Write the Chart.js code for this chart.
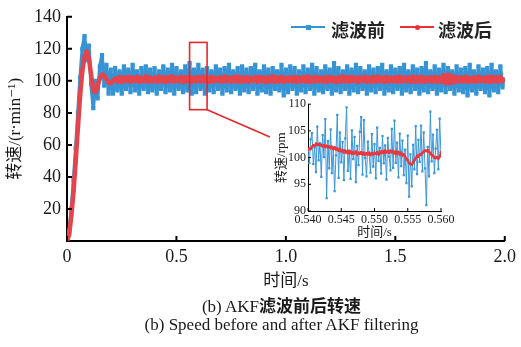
<!DOCTYPE html>
<html>
<head>
<meta charset="utf-8">
<script src="https://cdn.jsdelivr.net/npm/chart.js@4.4.1/dist/chart.umd.min.js"></script>
<style>
  html, body { margin: 0; padding: 0; background: #fff; overflow: hidden; }
  #wrap { position: relative; width: 521px; height: 347px; }
  #main { position: absolute; left: 0; top: 0; }
  #inset { position: absolute; left: 260px; top: 95px; }
  .lg-line { position: absolute; top: 26px; width: 34px; height: 2px; }
  .lg-mark { position: absolute; top: 24.5px; width: 5px; height: 5px; }
  .lg-text { position: absolute; top: 16px; line-height: 22px; font: bold 18px "Noto Sans CJK SC"; color: #222; }
  .cap { position: absolute; left: 21px; width: 521px; text-align: center; line-height: 22px;
         font: 17px "Liberation Serif", "Times New Roman", "DejaVu Serif", serif; color: #1a1a1a; }
  .cap b { font-family: "Noto Sans CJK SC"; font-weight: bold; }
</style>
</head>
<body>
<div id="wrap">
  <canvas id="main" width="521" height="347"></canvas>
  <canvas id="inset" width="200" height="150"></canvas>

  <div class="lg-line" style="left:291px;background:#3794d4"></div>
  <div class="lg-mark" style="left:305.5px;background:#3794d4"></div>
  <div class="lg-text" style="left:331px">滤波前</div>
  <div class="lg-line" style="left:400px;background:#ee3036"></div>
  <div class="lg-mark" style="left:414.5px;background:#ee3036;border-radius:50%"></div>
  <div class="lg-text" style="left:438px">滤波后</div>

  <div class="cap" style="top:292px">(b) AKF<b>滤波前后转速</b></div>
  <div class="cap" style="top:315px">(b) Speed before and after AKF filtering</div>
</div>
<script>
// 主图：0~2 s，每 0.01 s 一个采样
const T_MAIN = Array.from({ length: 201 }, (_, i) => +(i * 0.01).toFixed(2));
const X_TICKS = [0, 0.5, 1.0, 1.5, 2.0];
const Y_TICKS = [20, 40, 60, 80, 100, 120, 140];

const BEFORE_MAIN = [
  0, 6, 20, 38, 58, 80, 102, 120, 128, 113,
  122, 98, 83, 100, 89, 109, 116, 97, 110, 92,
  107, 92, 108, 94, 106, 92, 109, 95, 107, 93,
  110, 94, 106, 92, 108, 95, 109, 93, 107, 94,
  108, 92, 106, 95, 109, 93, 107, 94, 110, 92,
  108, 95, 106, 93, 109, 94, 111, 92, 107, 93,
  110, 95, 107, 92, 108, 94, 106, 93, 109, 95,
  107, 92, 108, 94, 110, 93, 106, 95, 108, 92,
  109, 94, 107, 93, 108, 95, 110, 92, 106, 94,
  109, 93, 107, 92, 108, 95, 106, 94, 110, 91,
  107, 93, 109, 95, 108, 92, 106, 94, 109, 93,
  107, 95, 110, 92, 108, 94, 106, 93, 109, 95,
  107, 92, 111, 94, 108, 93, 106, 95, 109, 92,
  107, 94, 110, 93, 108, 95, 106, 92, 109, 94,
  107, 93, 108, 95, 110, 92, 106, 94, 109, 93,
  107, 95, 108, 92, 110, 94, 106, 93, 109, 95,
  107, 92, 108, 94, 111, 93, 106, 95, 109, 92,
  107, 94, 110, 93, 108, 95, 106, 92, 109, 94,
  107, 93, 108, 91, 110, 94, 106, 92, 109, 95,
  107, 93, 108, 91, 110, 94, 106, 93, 109, 96,
  101
];

const AFTER_MAIN = [
  0, 4, 16, 31, 50, 71, 91, 106, 115, 118.5,
  114, 104, 94, 93, 97, 101.5, 104, 103.5, 101, 99,
  98.5, 100, 101.5, 99.6, 102.4, 99.2, 102.1, 99.8, 102.6, 99.4,
  102.2, 99.7, 102.5, 99.3, 102.0, 99.9, 102.7, 99.5, 102.3, 99.6,
  102.1, 99.4, 102.6, 99.8, 102.2, 99.3, 102.4, 99.7, 102.8, 99.5,
  102.0, 99.6, 102.5, 99.2, 102.3, 99.9, 102.6, 99.4, 102.1, 99.7,
  102.4, 99.5, 102.7, 99.8, 102.2, 99.3, 102.5, 99.6, 102.0, 99.9,
  102.3, 99.4, 102.6, 99.7, 102.1, 99.5, 102.4, 99.8, 102.7, 99.3,
  102.2, 99.6, 102.5, 99.4, 102.0, 99.9, 102.3, 99.5, 102.6, 99.7,
  102.1, 99.2, 102.4, 99.6, 102.8, 99.4, 102.2, 99.7, 102.5, 99.3,
  102.0, 99.8, 102.3, 99.5, 102.6, 99.4, 102.1, 99.7, 102.4, 99.6,
  102.7, 99.3, 102.2, 99.5, 102.5, 99.8, 102.0, 99.4, 102.3, 99.6,
  102.6, 99.7, 102.1, 99.2, 102.4, 99.5, 102.8, 99.6, 102.2, 99.4,
  102.5, 99.9, 102.0, 99.3, 102.3, 99.7, 102.6, 99.5, 102.1, 99.4,
  102.4, 99.6, 102.7, 99.8, 102.2, 99.3, 102.5, 99.5, 102.0, 99.7,
  102.3, 99.4, 102.6, 99.6, 102.1, 99.8, 102.4, 99.3, 102.7, 99.5,
  102.2, 99.6, 102.5, 99.4, 102.0, 99.7, 102.3, 99.5, 102.6, 99.4,
  102.1, 99.6, 103.5, 98.6, 103.8, 98.5, 103.2, 99.0, 102.4, 99.5,
  102.2, 99.7, 102.5, 99.3, 102.0, 99.6, 102.3, 99.4, 102.6, 99.8,
  102.1, 99.5, 102.4, 99.3, 102.7, 99.6, 102.2, 99.4, 102.5, 99.7,
  100.8
];

// 局部放大：0.540~0.560 s，每 0.0002 s 一个采样
const T_INSET = Array.from({ length: 101 }, (_, i) => +(0.54 + i * 0.0002).toFixed(4));
const INSET_X_TICKS = [0.540, 0.545, 0.550, 0.555, 0.560];
const INSET_Y_TICKS = [90, 95, 100, 105, 110];

const BEFORE_INSET = [
  101.2, 99.0, 103.4, 104.6, 98.8, 101.9, 97.3, 105.8, 99.5, 102.7,
  96.4, 104.2, 100.1, 107.2, 92.4, 103.1, 98.0, 105.3, 97.1, 101.6,
  93.7, 100.4, 108.0, 96.2, 104.7, 99.1, 102.9, 95.8, 103.6, 109.4,
  97.5, 101.3, 96.0, 105.1, 99.7, 103.9, 95.4, 102.2, 98.6, 104.8,
  107.6, 96.8, 107.0, 99.9, 96.5, 103.0, 100.6, 97.2, 104.4, 98.3,
  102.5, 96.1, 105.6, 99.4, 101.8, 97.0, 104.0, 98.9, 102.3, 95.9,
  103.7, 100.2, 97.6, 105.4, 98.1, 106.9, 99.0, 102.8, 96.3, 104.5,
  98.4, 103.2, 96.7, 101.5, 95.2, 104.1, 92.7, 100.6, 94.6, 102.4,
  97.8, 105.9, 96.9, 103.3, 99.2, 106.0, 97.4, 104.7, 98.0, 91.1,
  102.0, 96.5, 108.6, 99.3, 104.3, 97.1, 101.7, 105.2, 97.8, 107.3,
  100.4
];

const AFTER_INSET = [
  101.4, 101.7, 101.6, 102.0, 102.3, 102.2, 102.6, 102.4, 102.5, 102.3,
  102.4, 102.1, 102.3, 102.0, 102.2, 101.9, 102.1, 101.8, 102.0, 101.6,
  101.9, 101.5, 101.7, 101.3, 101.6, 101.2, 101.4, 101.0, 101.3, 100.9,
  101.2, 100.8, 101.1, 100.7, 101.0, 100.8, 101.1, 100.6, 100.9, 100.7,
  101.0, 100.6, 100.9, 100.5, 100.8, 100.6, 100.9, 100.5, 100.8, 100.6,
  100.9, 100.7, 101.0, 100.6, 101.1, 100.8, 101.2, 100.9, 101.3, 101.0,
  101.2, 100.9, 101.3, 101.0, 101.2, 100.8, 101.1, 100.7, 101.0, 100.6,
  100.9, 100.4, 100.6, 100.1, 99.8, 99.5, 99.0, 98.8, 98.7, 99.1,
  99.5, 99.9, 100.3, 100.2, 100.6, 100.5, 100.9, 101.1, 101.3, 101.2,
  101.4, 101.1, 100.8, 100.5, 100.3, 100.0, 99.9, 100.1, 99.8, 100.2,
  101.0
];

// 放大框及引线（数据坐标）
const BOX_X = [0.56, 0.64], BOX_Y = [82, 124];
const LEAD_END = [0.927, 65];

const BLUE = '#3794d4', RED = '#e6444d';
const SERIF = '"Liberation Serif", "Times New Roman", "DejaVu Serif", serif, "Noto Sans CJK SC"';
const INK = '#1a1a1a';

const xy = (ts, vs) => ts.map((t, i) => ({ x: t, y: vs[i] }));

// 向内的刻度线
const innerTicks = {
  id: 'innerTicks',
  afterDraw(chart, args, opts) {
    const { ctx, chartArea: a, scales: { x, y } } = chart;
    ctx.save();
    ctx.strokeStyle = '#000';
    ctx.lineWidth = opts.width;
    ctx.beginPath();
    x.ticks.forEach(t => { const p = x.getPixelForValue(t.value); ctx.moveTo(p, a.bottom); ctx.lineTo(p, a.bottom - opts.len); });
    y.ticks.forEach(t => { const p = y.getPixelForValue(t.value); ctx.moveTo(a.left, p); ctx.lineTo(a.left + opts.len, p); });
    ctx.stroke();
    ctx.restore();
  }
};

const zoomBox = {
  id: 'zoomBox',
  afterDatasetsDraw(chart) {
    const { ctx, scales: { x, y } } = chart;
    const x0 = x.getPixelForValue(BOX_X[0]), x1 = x.getPixelForValue(BOX_X[1]);
    const y0 = y.getPixelForValue(BOX_Y[0]), y1 = y.getPixelForValue(BOX_Y[1]);
    ctx.save();
    ctx.strokeStyle = '#e8262c';
    ctx.lineWidth = 1.6;
    ctx.strokeRect(x0, y1, x1 - x0, y0 - y1);
    ctx.beginPath();
    ctx.moveTo(x1, y0);
    ctx.lineTo(x.getPixelForValue(LEAD_END[0]), y.getPixelForValue(LEAD_END[1]));
    ctx.stroke();
    ctx.restore();
  }
};

const tickFont = size => ({ family: SERIF, size });

new Chart(document.getElementById('main'), {
  type: 'line',
  data: {
    datasets: [
      { label: '滤波后', data: xy(T_MAIN, AFTER_MAIN), borderColor: RED, backgroundColor: RED,
        borderWidth: 4.5, borderJoinStyle: 'round', pointStyle: 'circle', pointRadius: 2, pointBorderWidth: 0 },
      { label: '滤波前', data: xy(T_MAIN, BEFORE_MAIN), borderColor: BLUE, backgroundColor: BLUE,
        borderWidth: 3.6, borderJoinStyle: 'bevel', pointStyle: 'rect', pointRadius: 3, pointBorderWidth: 0 },
    ],
  },
  options: {
    responsive: false, animation: false, devicePixelRatio: 1,
    layout: { padding: { left: 0, top: 16, right: 13, bottom: 55 } },
    plugins: { legend: { display: false }, tooltip: { enabled: false }, innerTicks: { len: 5, width: 2 } },
    scales: {
      x: {
        type: 'linear', min: 0, max: 2,
        afterBuildTicks: s => { s.ticks = X_TICKS.map(v => ({ value: v })); },
        ticks: { callback: v => v === 0 ? '0' : v.toFixed(1), font: tickFont(18), color: INK, padding: 5, maxRotation: 0 },
        grid: { display: false, drawTicks: false },
        border: { color: '#000', width: 2 },
        title: { display: true, text: '时间/s', font: tickFont(17), color: INK, padding: 0 },
        afterFit: s => { s.height = 51; },
      },
      y: {
        min: 0, max: 140,
        afterBuildTicks: s => { s.ticks = Y_TICKS.map(v => ({ value: v })); },
        ticks: { font: tickFont(18), color: INK, padding: 6 },
        grid: { display: false, drawTicks: false },
        border: { color: '#000', width: 2 },
        title: { display: true, text: '转速/(r·min⁻¹)', font: tickFont(17), color: INK, padding: { top: 5, bottom: 0 } },
        afterFit: s => { s.width = 67; },
      },
    },
  },
  plugins: [innerTicks, zoomBox],
});

new Chart(document.getElementById('inset'), {
  type: 'line',
  data: {
    datasets: [
      { label: '滤波后', data: xy(T_INSET, AFTER_INSET), borderColor: '#e8383f', backgroundColor: '#e8383f',
        borderWidth: 2, pointStyle: 'circle', pointRadius: 1.4, pointBorderWidth: 0 },
      { label: '滤波前', data: xy(T_INSET, BEFORE_INSET), borderColor: '#3b97d9', backgroundColor: '#3b97d9',
        borderWidth: 1, pointStyle: 'rect', pointRadius: 1.6, pointBorderWidth: 0 },
    ],
  },
  options: {
    responsive: false, animation: false, devicePixelRatio: 1,
    layout: { padding: { left: 0, top: 9, right: 19, bottom: 5 } },
    plugins: { legend: { display: false }, tooltip: { enabled: false }, innerTicks: { len: 3, width: 1 } },
    scales: {
      x: {
        type: 'linear', min: 0.54, max: 0.56,
        afterBuildTicks: s => { s.ticks = INSET_X_TICKS.map(v => ({ value: v })); },
        ticks: { callback: v => v.toFixed(3), font: tickFont(12), color: INK, padding: 2, maxRotation: 0, autoSkip: false },
        grid: { display: false, drawTicks: false },
        border: { color: '#000', width: 1 },
        title: { display: true, text: '时间/s', font: tickFont(13), color: INK, padding: 0 },
        afterFit: s => { s.height = 29; },
      },
      y: {
        min: 90, max: 110,
        afterBuildTicks: s => { s.ticks = INSET_Y_TICKS.map(v => ({ value: v })); },
        ticks: { font: tickFont(12), color: INK, padding: 2 },
        grid: { display: false, drawTicks: false },
        border: { color: '#000', width: 1 },
        title: { display: true, text: '转速/rpm', font: tickFont(13), color: INK, padding: { top: 14, bottom: 0 } },
        afterFit: s => { s.width = 48; },
      },
    },
  },
  plugins: [innerTicks],
});
</script>
</body>
</html>
